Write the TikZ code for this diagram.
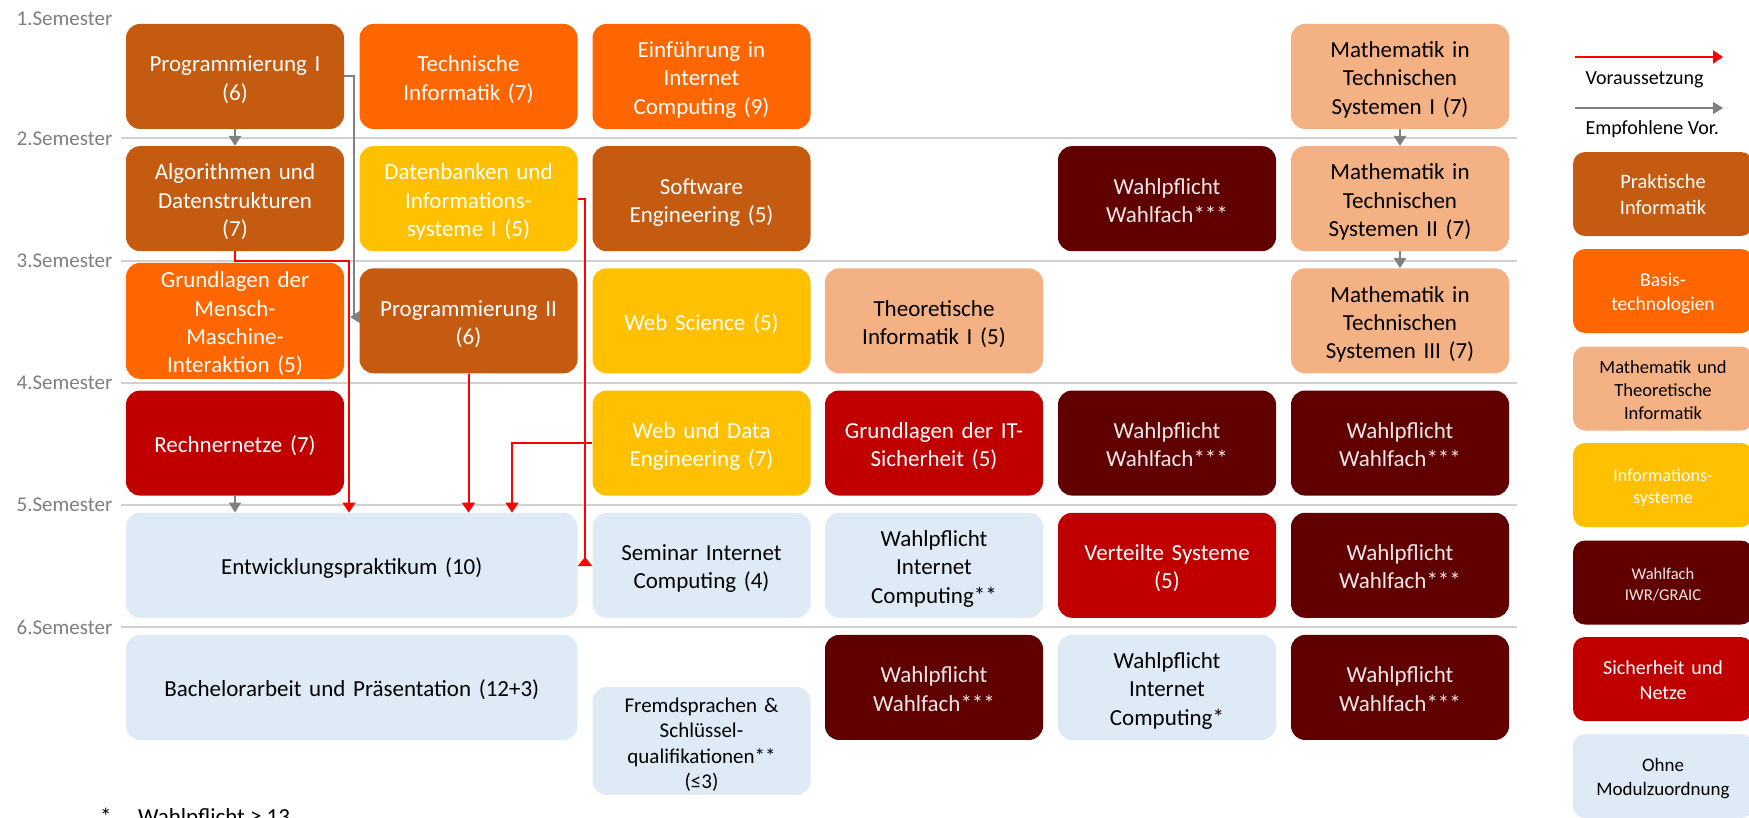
\documentclass[tikz,border=0pt]{standalone}
\usepackage{fontspec}
\setmainfont{Carlito}
\usetikzlibrary{arrows.meta}
\definecolor{cPI}{HTML}{C55A11}
\definecolor{cBT}{HTML}{FF6600}
\definecolor{cMT}{HTML}{F4B183}
\definecolor{cIS}{HTML}{FFC000}
\definecolor{cWF}{HTML}{600000}
\definecolor{cSN}{HTML}{C00000}
\definecolor{cOM}{HTML}{DEEBF7}
\definecolor{cSem}{HTML}{7F7F7F}
\definecolor{cLine}{HTML}{D0D0D0}
\definecolor{cArrG}{HTML}{808080}
\definecolor{cArrR}{HTML}{FF0000}
\definecolor{cWFtext}{HTML}{F0E8E8}
\begin{document}
\begin{tikzpicture}[x=1pt,y=-1pt,
  mod/.style={rectangle, rounded corners=14pt, minimum width=218pt, minimum height=105pt,
    inner sep=0pt, align=center, text width=214pt, font=\fontsize{23}{28.3}\selectfont,
    execute at begin node={\rule{0pt}{25pt}},
    execute at end node={\rule[-6pt]{0pt}{6pt}}},
  boxPI/.style={mod, fill=cPI, text=white},
  boxBT/.style={mod, fill=cBT, text=white},
  boxMT/.style={mod, fill=cMT, text=black},
  boxIS/.style={mod, fill=cIS, text=white},
  boxWF/.style={mod, fill=cWF, text=cWFtext},
  boxSN/.style={mod, fill=cSN, text=white},
  boxOM/.style={mod, fill=cOM, text=black},
  leg/.style={rectangle, rounded corners=12pt, minimum width=180pt, minimum height=84pt,
    inner sep=0pt, align=center, text width=176pt,
    execute at begin node={\rule{0pt}{19pt}},
    execute at end node={\rule[-4pt]{0pt}{4pt}}},
  semlab/.style={anchor=east, text=cSem, font=\fontsize{21}{25}\selectfont},
  semline/.style={draw=cLine, line width=2pt},
  garr/.style={draw=cArrG, line width=2pt, -{Triangle[width=12pt,length=10pt]}},
  gline/.style={draw=cArrG, line width=2pt},
  rarr/.style={draw=cArrR, line width=2pt, -{Triangle[width=13pt,length=10pt]}},
  rarrrev/.style={draw=cArrR, line width=2pt, -{Triangle[reversed,width=14pt,length=9pt]}},
  legtxt/.style={anchor=west, font=\fontsize{20}{24}\selectfont}
]
\useasboundingbox (0,0) rectangle (1749,817);

% semester labels and lines
\node[semlab] (s1) at (116,19) {1.Semester};
\node[semlab] (s2) at (116,138.3) {2.Semester};
\node[semlab] (s3) at (116,260.5) {3.Semester};
\node[semlab] (s4) at (116,382.7) {4.Semester};
\node[semlab] (s5) at (116,504.9) {5.Semester};
\node[semlab] (s6) at (116,627.1) {6.Semester};
\foreach \yy in {138.3,260.5,382.7,504.9,627.1}
  \draw[semline] (121,\yy) -- (1517,\yy);

% row 1
\node[boxPI] (P1) at (235,76.45) {Programmierung I\\(6)};
\node[boxBT] (TI) at (468.5,76.45) {Technische\\Informatik (7)};
\node[boxBT] (EIC) at (701.5,76.45) {Einführung in\\Internet\\Computing (9)};
\node[boxMT] (M1) at (1400,76.45) {Mathematik in\\Technischen\\Systemen I (7)};
% row 2
\node[boxPI] (A) at (235,198.65) {Algorithmen und\\Datenstrukturen\\(7)};
\node[boxIS] (DB) at (468.5,198.65) {Datenbanken und\\Informations-\\systeme I (5)};
\node[boxPI] (SE) at (701.5,198.65) {Software\\Engineering (5)};
\node[boxWF] (W2) at (1167,198.65) {Wahlpflicht\\Wahlfach***};
\node[boxMT] (M2) at (1400,198.65) {Mathematik in\\Technischen\\Systemen II (7)};
% row 3
\node[boxBT] (MMI) at (235,320.85) {Grundlagen der\\Mensch-\\Maschine-\\Interaktion (5)};
\node[boxPI] (P2) at (468.5,320.85) {Programmierung II\\(6)};
\node[boxIS] (WS) at (701.5,320.85) {Web Science (5)};
\node[boxMT] (TH) at (934,320.85) {Theoretische\\Informatik I (5)};
\node[boxMT] (M3) at (1400,320.85) {Mathematik in\\Technischen\\Systemen III (7)};
% row 4
\node[boxSN] (R) at (235,443.05) {Rechnernetze (7)};
\node[boxIS] (WDE) at (701.5,443.05) {Web und Data\\Engineering (7)};
\node[boxSN] (ITS) at (934,443.05) {Grundlagen der IT-\\Sicherheit (5)};
\node[boxWF] (W4a) at (1167,443.05) {Wahlpflicht\\Wahlfach***};
\node[boxWF] (W4b) at (1400,443.05) {Wahlpflicht\\Wahlfach***};
% row 5
\node[boxOM, minimum width=451.5pt, text width=440pt] (E) at (351.75,565.25) {Entwicklungspraktikum (10)};
\node[boxOM] (SIC) at (701.5,565.25) {Seminar Internet\\Computing (4)};
\node[boxOM] (WIC2) at (934,565.25) {Wahlpflicht\\Internet\\Computing**};
\node[boxSN] (VS) at (1167,565.25) {Verteilte Systeme\\(5)};
\node[boxWF] (W5) at (1400,565.25) {Wahlpflicht\\Wahlfach***};
% row 6
\node[boxOM, minimum width=451.5pt, text width=440pt] (BA) at (351.75,687.45) {Bachelorarbeit und Präsentation (12+3)};
\node[boxOM, font=\fontsize{21}{25.6}\selectfont] (FS) at (701.5,741) {Fremdsprachen \&\\Schlüssel-\\qualifikationen**\\(≤3)};
\node[boxWF] (W6a) at (934,687.45) {Wahlpflicht\\Wahlfach***};
\node[boxOM] (WIC1) at (1167,687.45) {Wahlpflicht\\Internet\\Computing*};
\node[boxWF] (W6b) at (1400,687.45) {Wahlpflicht\\Wahlfach***};

% gray arrows (recommended)
\draw[garr] (P1.south) -- (A.north);
\draw[garr] (M1.south) -- (M2.north);
\draw[garr] (M2.south) -- (M3.north);
\draw[garr] (R.south) -- (R.south |- E.north);
\coordinate (gbend) at (354,317);
\coordinate (gtip) at (350,317);
\draw[gline] (P1.east) -| (gbend);
\draw[garr] (P2.west |- gtip) -- (gtip);

% red arrows (prerequisites)
\coordinate (rA) at (349,260.5);
\draw[rarr] (A.south) |- (rA) -- (rA |- E.north);
\draw[rarr] (P2.south) -- (P2.south |- E.north);
\coordinate (rW) at (512,443.05);
\draw[rarr] (WDE.west) -- (rW) -- (rW |- E.north);
\coordinate (rD) at (585,566);
\draw[rarrrev] (DB.east) -| (rD);

% legend
\coordinate (lr1) at (1575,57);
\coordinate (lr2) at (1723,57);
\draw[rarr] (lr1) -- (lr2);
\node[legtxt] (lt1) at (1582,80) {Voraussetzung};
\coordinate (lg1) at (1575,108);
\coordinate (lg2) at (1723,108);
\draw[garr] (lg1) -- (lg2);
\node[legtxt] (lt2) at (1582,129) {Empfohlene Vor.};

\node[leg, fill=cPI, text=white, font=\fontsize{20.5}{26}\selectfont] (L1) at (1663,194) {Praktische\\Informatik};
\node[leg, fill=cBT, text=white, font=\fontsize{19.5}{23.5}\selectfont] (L2) at (1663,291) {Basis-\\technologien};
\node[leg, fill=cMT, text=black, font=\fontsize{18.5}{23}\selectfont] (L3) at (1663,388.5) {Mathematik und\\Theoretische\\Informatik};
\node[leg, fill=cIS, text=white, font=\fontsize{18}{22.5}\selectfont] (L4) at (1663,485) {Informations-\\systeme};
\node[leg, fill=cWF, text=cWFtext, font=\fontsize{16.5}{20.5}\selectfont] (L5) at (1663,582.5) {Wahlfach\\IWR/GRAIC};
\node[leg, fill=cSN, text=white, font=\fontsize{20}{25}\selectfont] (L6) at (1663,679) {Sicherheit und\\Netze};
\node[leg, fill=cOM, text=black, font=\fontsize{19}{23.5}\selectfont] (L7) at (1663,776) {Ohne\\Modulzuordnung};

% footnote
\node[anchor=base west, inner sep=0pt, font=\fontsize{23}{28}\selectfont] (fn1) at (100,824) {*};
\node[anchor=base west, inner sep=0pt, font=\fontsize{23}{28}\selectfont] (fn2) at (138,824) {Wahlpflicht ≥ 13};
\end{tikzpicture}
\end{document}
